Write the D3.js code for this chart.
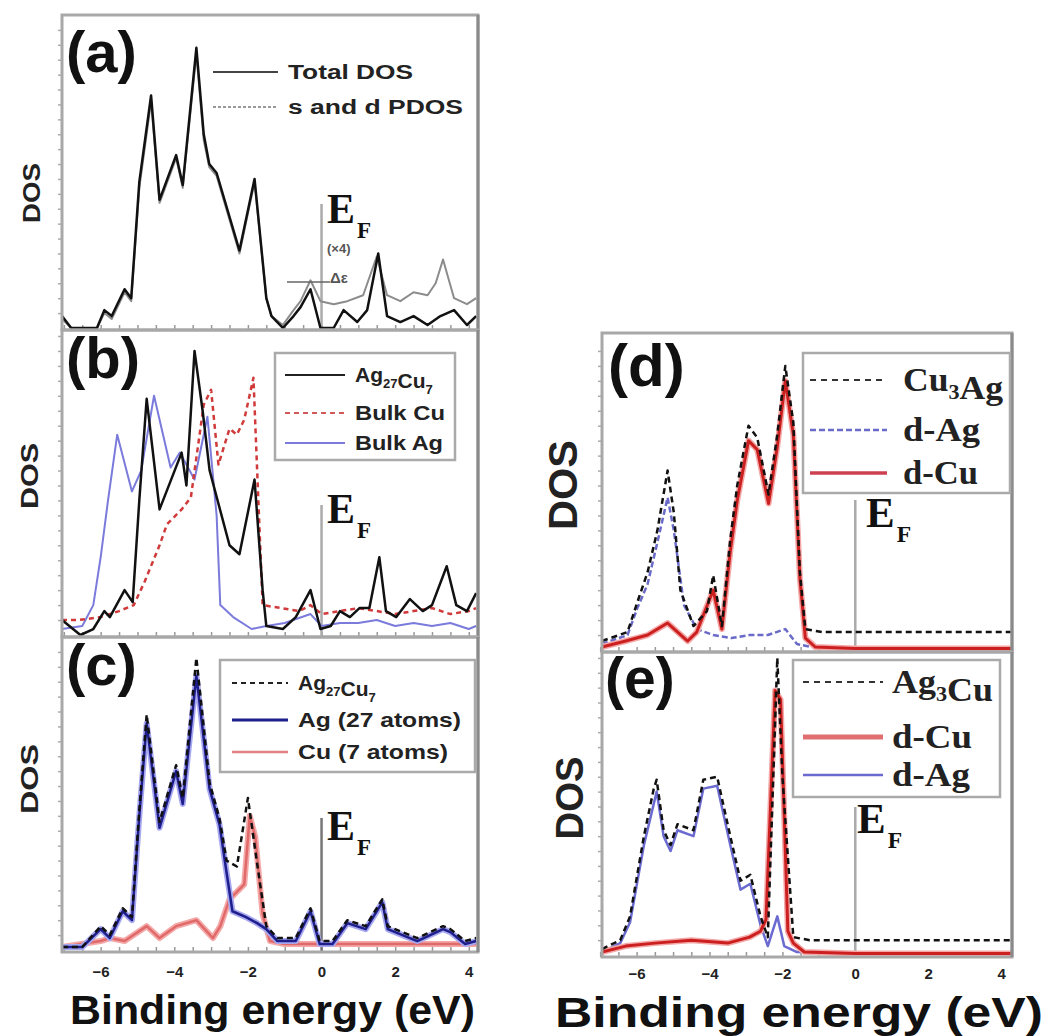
<!DOCTYPE html>
<html><head><meta charset="utf-8">
<script src="https://cdn.jsdelivr.net/npm/d3@7"></script>
<style>
html,body{margin:0;padding:0;background:#fff;}
svg{display:block;}
text{font-family:"Liberation Sans",Arial,sans-serif;}
.serif{font-family:"Liberation Serif","Times New Roman",serif;font-weight:bold;}
</style></head>
<body>
<svg id="chart" width="1052" height="1036"></svg>
<script>
// ---------------- DATA ----------------
const tickLabelsX = [-6, -4, -2, 0, 2, 4];
const minorTicksX = [-7, -6.5, -6, -5.5, -5, -4.5, -4, -3.5, -3, -2.5, -2, -1.5, -1, -0.5, 0, 0.5, 1, 1.5, 2, 2.5, 3, 3.5, 4];
const minorTicksY = [5, 10, 15, 20, 25, 30, 35, 40, 45, 50, 55, 60, 65, 70, 75, 80, 85, 90, 95, 100];

// (a) Total DOS and s+d PDOS
const aTotalE = [-7.05,-6.8,-6.1,-5.9,-5.7,-5.35,-5.17,-4.95,-4.63,-4.4,-3.95,-3.77,-3.4,-3.2,-3.05,-2.85,-2.23,-1.82,-1.5,-1.36,-1.05,-0.76,-0.57,-0.3,-0.03,0.33,0.6,0.97,1.24,1.54,1.78,2.14,2.5,2.88,3.23,3.6,3.95,4.2];
const aTotalV = [4,0,0,6,4,13,10,49,78,43,58,48,94,65,55,52,26,50,10,4,0,4,7,13,0,0,6,2,6,25,4,2,4,1,4,6,1,4];
const aPdosE = [-7.05,-6.8,-6.1,-5.9,-5.7,-5.35,-5.17,-4.95,-4.63,-4.4,-3.95,-3.77,-3.4,-3.2,-3.05,-2.85,-2.23,-1.82,-1.5,-1.36,-1.05,-0.76,-0.57,-0.3,-0.03,0.33,0.7,1.13,1.5,1.78,2.14,2.5,2.88,3.1,3.3,3.6,3.95,4.2];
const aPdosV = [3,0,0,5,3,12,9,47,76,42,57,47,92,63,54,51,25,49,10,4,1,6,9,16,9,8,9,11,24,11,9,12,11,15,23,10,8,10];

// (b) Ag27Cu7 vs bulk Cu and bulk Ag
const bClusterE = [-7.05,-6.55,-6.2,-5.9,-5.75,-5.35,-5.13,-4.95,-4.75,-4.4,-3.8,-3.67,-3.45,-3.23,-3.04,-2.5,-2.23,-1.82,-1.6,-1.5,-1.05,-0.7,-0.3,-0.03,0.25,0.5,0.77,1.03,1.3,1.57,1.75,2.03,2.4,2.75,3.0,3.4,3.66,3.95,4.2];
const bClusterV = [5,0,2,8,6,15,11,45,79,42,61,50,95,75,55,30,27,52,15,3,2,6,15,2,3,8,6,9,9,26,8,6,12,8,10,23,10,8,14];
const bBulkCuE = [-7.05,-6.6,-6.0,-5.5,-5.1,-4.8,-4.4,-4.2,-3.8,-3.55,-3.2,-3.0,-2.8,-2.5,-2.3,-2.1,-1.85,-1.7,-1.6,-1.1,-0.6,-0.3,0,0.5,1.0,1.5,2.0,2.5,3.0,3.5,4.0,4.2];
const bBulkCuV = [5,5,6,8,10,18,30,37,42,46,77,82,57,69,67,72,86,40,10,9,8,10,7,8,9,8,7,8,9,7,8,9];
const bBulkAgE = [-7.05,-6.5,-6.2,-6.0,-5.8,-5.55,-5.15,-4.9,-4.55,-4.1,-3.85,-3.45,-3.1,-2.85,-2.75,-2.4,-1.9,-1.5,-1.0,-0.3,0,0.5,1.0,1.5,2.0,2.5,3.0,3.5,4.0,4.2];
const bBulkAgV = [2,3,10,26,45,67,48,55,80,56,61,52,73,40,10,6,2,3,4,7,3,4,4,5,3,4,3,4,2,3];

// (c) Ag27Cu7 projected on Ag and Cu atoms
const cTotalE = [-7.05,-6.5,-6.0,-5.75,-5.4,-5.15,-4.95,-4.75,-4.4,-3.95,-3.77,-3.4,-3.04,-2.77,-2.58,-2.3,-2.0,-1.75,-1.5,-1.2,-0.7,-0.3,-0.05,0.3,0.7,1.2,1.65,1.8,2.2,2.6,3.3,3.5,3.9,4.2];
const cTotalV = [1,1,8,5,14,11,47,79,43,62,51,98,56,44,30,28,51,29,8,4,4,14,3,3,10,8,17,8,6,4,8,7,3,4];
const cAgE = [-7.05,-6.5,-6.0,-5.75,-5.4,-5.15,-4.95,-4.75,-4.4,-3.95,-3.77,-3.4,-3.04,-2.77,-2.58,-2.42,-2.05,-1.75,-1.5,-1.2,-0.7,-0.3,-0.05,0.3,0.7,1.2,1.65,1.8,2.2,2.6,3.3,3.5,3.9,4.2];
const cAgV = [1,1,7,4,13,10,45,76,41,60,49,92,54,42,26,13,11,9,7,3,3,13,2,2,9,7,16,7,5,3,7,6,2,3];
const cCuE = [-7.05,-6.0,-5.75,-5.35,-4.75,-4.4,-3.95,-3.4,-3.1,-2.95,-2.75,-2.5,-2.1,-1.95,-1.8,-1.6,-1.4,-1.0,0,1,2,3,4.2];
const cCuV = [1,3,4,3,8,4,8,10,6,4,8,17,22,45,38,12,3,2,2,2,2,2,2];

// (d) Cu3Ag
const dTotalE = [-6.95,-6.25,-5.98,-5.7,-5.43,-5.15,-4.98,-4.8,-4.44,-4.07,-3.9,-3.66,-3.43,-3.24,-2.93,-2.69,-2.38,-2.14,-1.92,-1.7,-1.52,-1.37,-0.9,0,1,2,3,4.3];
const dTotalV = [3,6,16,26,40,60,46,20,8,13,25,8,37,55,75,71,52,72,95,76,26,7,6,6,6,6,6,6];
const dAgE = [-6.95,-6.25,-5.98,-5.7,-5.43,-5.15,-4.98,-4.7,-4.35,-3.9,-3.4,-2.9,-2.4,-1.92,-1.6,-1.2,0,4.3];
const dAgV = [2,5,14,22,36,51,40,15,7,5,4,5,5,7,2,1,0.5,0.5];
const dCuE = [-6.95,-6.3,-5.7,-5.15,-4.6,-4.35,-3.9,-3.66,-3.43,-3.24,-2.93,-2.69,-2.38,-2.14,-1.92,-1.7,-1.52,-1.37,-1.1,0,4.3];
const dCuV = [1,3,5,9,3,6,20,7,33,50,70,67,49,68,90,72,24,4,1,0.5,0.5];

// (e) Ag3Cu
const eTotalE = [-6.95,-6.45,-6.18,-5.8,-5.53,-5.45,-5.26,-5.07,-4.88,-4.44,-4.17,-3.79,-3.43,-3.15,-2.88,-2.6,-2.4,-2.25,-2.14,-2.0,-1.7,-1.25,0,1,2,3,4.3];
const eTotalV = [2,5,13,40,56,59,42,37,44,42,59,60,40,25,27,13,6,60,100,60,6,5,5,5,5,5,5];
const eCuE = [-6.95,-6.3,-5.5,-4.5,-3.5,-2.9,-2.6,-2.45,-2.2,-2.05,-1.85,-1.7,-1.4,0,4.3];
const eCuV = [1,3,4,5,4,6,8,12,89,86,8,4,1,0.5,0.5];
const eAgE = [-6.95,-6.45,-6.18,-5.8,-5.45,-5.26,-5.07,-4.88,-4.44,-4.17,-3.79,-3.43,-3.15,-2.88,-2.6,-2.4,-2.14,-1.95,-1.6,0,4.3];
const eAgV = [1,4,11,37,55,40,35,42,40,56,57,37,22,24,10,3,13,3,1,0.5,0.5];

// ---------------- DRAW ----------------
const svg = d3.select("#chart");
const zip = (E, V) => E.map((e, i) => ({e, v: V[i]}));

const panels = {
  a: {x0: 62, x1: 478, y0: 15, y1: 330, xd: [-7.05, 4.25], ymax: 105},
  b: {x0: 62, x1: 478, y0: 330, y1: 637, xd: [-7.05, 4.25], ymax: 102},
  c: {x0: 62, x1: 478, y0: 637, y1: 952, xd: [-7.05, 4.25], ymax: 105},
  d: {x0: 602, x1: 1012, y0: 333, y1: 652, xd: [-6.95, 4.3], ymax: 106},
  e: {x0: 602, x1: 1012, y0: 652, y1: 957, xd: [-6.95, 4.3], ymax: 102}
};
for (const k in panels) {
  const p = panels[k];
  p.x = d3.scaleLinear().domain(p.xd).range([p.x0, p.x1]);
  p.y = d3.scaleLinear().domain([0, p.ymax]).range([p.y1 - 2, p.y0]);
}

function frame(p, showLabels) {
  const g = svg.append("g");
  const ax = g.append("g").attr("transform", `translate(0,${p.y1})`)
    .call(d3.axisBottom(p.x).tickValues(minorTicksX).tickSize(-5).tickFormat(""));
  ax.select(".domain").remove();
  ax.selectAll("line").attr("stroke", "#999").attr("stroke-width", 1.5);
  if (showLabels) {
    const lab = g.append("g").attr("transform", `translate(0,${p.y1})`)
      .call(d3.axisBottom(p.x).tickValues(tickLabelsX).tickSize(0).tickPadding(showLabels.pad).tickFormat(d3.format("d")));
    lab.select(".domain").remove();
    lab.selectAll("text").attr("font-size", showLabels.fs).attr("font-weight", "bold").attr("fill", "#222")
      .attr("font-family", "'Liberation Sans',Arial,sans-serif");
  }
  const ay = g.append("g").attr("transform", `translate(${p.x0},0)`)
    .call(d3.axisLeft(p.y).tickValues(minorTicksY).tickSize(4).tickFormat(""));
  ay.select(".domain").remove();
  ay.selectAll("line").attr("stroke", "#aaa").attr("stroke-width", 1.5);
  return g;
}

function drawLine(p, data, style) {
  const line = d3.line().x(d => p.x(d.e)).y(d => p.y(d.v));
  svg.append("path").datum(data).attr("d", line)
    .attr("fill", "none").attr("stroke", style.c).attr("stroke-width", style.w)
    .attr("stroke-dasharray", style.dash || null).attr("stroke-linejoin", "round")
    .attr("stroke-opacity", style.o || 1);
}

function border(p) {
  svg.append("rect").attr("x", p.x0).attr("y", p.y0).attr("width", p.x1 - p.x0).attr("height", p.y1 - p.y0)
    .attr("fill", "none").attr("stroke", "#a8a8a8").attr("stroke-width", 3);
  svg.append("line").attr("x1", p.x1).attr("x2", p.x1).attr("y1", p.y0).attr("y2", p.y1)
    .attr("stroke", "#8a8a8a").attr("stroke-width", 3);
}

function efLine(p, top, col) {
  svg.append("line").attr("x1", p.x(0)).attr("x2", p.x(0)).attr("y1", top).attr("y2", p.y1)
    .attr("stroke", col || "#aaa").attr("stroke-width", 2.5);
}

function efLabel(x, y, fs) {
  const t = svg.append("text").attr("class", "serif").attr("x", x).attr("y", y).attr("font-size", fs).attr("fill", "#111");
  t.append("tspan").text("E");
  t.append("tspan").attr("dx", 2).attr("dy", fs * 0.36).attr("font-size", fs * 0.55).text("F");
}

function dosLabel(x, y, fs, len) {
  svg.append("text").attr("transform", `translate(${x},${y}) rotate(-90)`).attr("text-anchor", "middle")
    .attr("font-size", fs).attr("font-weight", "bold").attr("fill", "#222")
    .attr("textLength", len).attr("lengthAdjust", "spacingAndGlyphs").text("DOS");
}

function panelLabel(x, y, txt, fs) {
  svg.append("text").attr("x", x).attr("y", y).attr("font-size", fs).attr("font-weight", "bold").attr("fill", "#111").text(txt);
}

function legendBox(x, y, w, h) {
  svg.append("rect").attr("x", x).attr("y", y).attr("width", w).attr("height", h)
    .attr("fill", "#fff").attr("stroke", "#aaa").attr("stroke-width", 2.5);
}
function legendLine(x1, x2, y, style) {
  svg.append("line").attr("x1", x1).attr("x2", x2).attr("y1", y).attr("y2", y)
    .attr("stroke", style.c).attr("stroke-width", style.w).attr("stroke-dasharray", style.dash || null);
}
function legendText(x, y, parts, fs, cls, len) {
  const t = svg.append("text").attr("x", x).attr("y", y).attr("font-size", fs).attr("fill", "#222");
  if (cls) t.attr("class", cls); else t.attr("font-weight", "bold");
  if (len) t.attr("textLength", len).attr("lengthAdjust", "spacingAndGlyphs");
  parts.forEach(pt => {
    if (typeof pt === "string") t.append("tspan").text(pt);
    else t.append("tspan").attr("dy", pt.dy).attr("font-size", fs * 0.62).text(pt.t);
  });
}

// ---- styles
const sBlack = {c: "#111", w: 2.5};
const sBlackDash = {c: "#111", w: 2.5, dash: "6,4"};
const sGray = {c: "#8c8c8c", w: 2};
const sBulkCu = {c: "#d03a3a", w: 2.5, dash: "5,4"};
const sBulkAg = {c: "#7b7bdc", w: 2};
const sAgHalo = {c: "#a8a8f0", w: 6};
const sAgC = {c: "#1e1e8c", w: 2.5};
const sCuC = {c: "#e06a6a", w: 2.5};
const sCuHalo = {c: "#f4a8a8", w: 6};
const sDCu = {c: "#cc2020", w: 3};
const sDAg = {c: "#6a6ac8", w: 2.5, dash: "6,3"};
const sEAg = {c: "#6a6ad0", w: 2.5};

// ---- Panel (a)
const A = panels.a;
frame(A, null);
efLine(A, 204);
drawLine(A, zip(aPdosE, aPdosV), sGray);
drawLine(A, zip(aTotalE, aTotalV), sBlack);
border(A);
panelLabel(66, 72, "(a)", 58);
dosLabel(40, 193, 24, 60);
legendLine(213, 278, 72, {c: "#444", w: 2});
legendText(288, 79, ["Total DOS"], 20, null, 125);
legendLine(213, 278, 107, {c: "#999", w: 2, dash: "3,2"});
legendText(288, 114, ["s and d PDOS"], 20, null, 175);
efLabel(327, 223, 42);
svg.append("text").attr("x", 327).attr("y", 253).attr("font-size", 13).attr("font-weight", "bold").attr("fill", "#555").text("(×4)");
svg.append("line").attr("x1", 287).attr("x2", 330).attr("y1", 282).attr("y2", 282).attr("stroke", "#666").attr("stroke-width", 1.5);
svg.append("text").attr("x", 330).attr("y", 283).attr("font-size", 15).attr("font-weight", "bold").attr("fill", "#555").text("Δε");

// ---- Panel (b)
const B = panels.b;
frame(B, null);
efLine(B, 505);
drawLine(B, zip(bBulkAgE, bBulkAgV), sBulkAg);
drawLine(B, zip(bBulkCuE, bBulkCuV), sBulkCu);
drawLine(B, zip(bClusterE, bClusterV), sBlack);
border(B);
panelLabel(66, 378, "(b)", 58);
dosLabel(38, 476, 24, 66);
legendBox(275, 353, 180, 107);
legendLine(285, 345, 375, {c: "#222", w: 2});
legendText(355, 382, ["Ag", {t: "27", dy: 6}, {t: "", dy: -6}, "Cu", {t: "7", dy: 6}], 21);
legendLine(285, 345, 413, {c: "#d05a5a", w: 2, dash: "5,4"});
legendText(355, 420, ["Bulk Cu"], 21, null, 90);
legendLine(285, 345, 443, {c: "#7b7bdc", w: 2});
legendText(355, 450, ["Bulk Ag"], 21, null, 88);
efLabel(327, 523, 42);

// ---- Panel (c)
const C = panels.c;
frame(C, {fs: 15, pad: 14});
efLine(C, 818, "#777");
drawLine(C, zip(cCuE, cCuV), sCuHalo);
drawLine(C, zip(cCuE, cCuV), sCuC);
drawLine(C, zip(cAgE, cAgV), sAgHalo);
drawLine(C, zip(cAgE, cAgV), sAgC);
drawLine(C, zip(cTotalE, cTotalV), sBlackDash);
border(C);
panelLabel(66, 685, "(c)", 58);
dosLabel(38, 779, 24, 70);
legendBox(220, 660, 255, 112);
legendLine(232, 288, 683, {c: "#222", w: 2, dash: "5,4"});
legendText(298, 690, ["Ag", {t: "27", dy: 6}, {t: "", dy: -6}, "Cu", {t: "7", dy: 6}], 21);
legendLine(232, 288, 720, {c: "#1e1e8c", w: 3});
legendText(298, 727, ["Ag (27 atoms)"], 21, null, 163);
legendLine(232, 288, 752, {c: "#e08080", w: 2.5});
legendText(298, 759, ["Cu (7 atoms)"], 21, null, 150);
efLabel(327, 840, 42);

svg.append("text").attr("x", 70).attr("y", 1024).attr("font-size", 40)
  .attr("textLength", 405).attr("lengthAdjust", "spacingAndGlyphs")
  .attr("font-weight", "bold").attr("fill", "#111").text("Binding energy (eV)");

// ---- Panel (d)
const D = panels.d;
frame(D, null);
efLine(D, 500);
drawLine(D, zip(dAgE, dAgV), sDAg);
drawLine(D, zip(dCuE, dCuV), sCuHalo);
drawLine(D, zip(dCuE, dCuV), sDCu);
drawLine(D, zip(dTotalE, dTotalV), sBlackDash);
border(D);
panelLabel(608, 386, "(d)", 60);
dosLabel(577, 485, 40, 90);
legendBox(803, 353, 207, 140);
legendLine(810, 887, 380, {c: "#333", w: 2, dash: "6,5"});
legendText(903, 391, ["Cu", {t: "3", dy: 8}, {t: "", dy: -8}, "Ag"], 33, "serif", 100);
legendLine(810, 887, 430, {c: "#6a6ac8", w: 2.5, dash: "6,3"});
legendText(903, 441, ["d-Ag"], 33, "serif", 77);
legendLine(810, 887, 473, {c: "#cc4050", w: 3.5});
legendText(903, 484, ["d-Cu"], 33, "serif", 75);
efLabel(866, 527, 43);

// ---- Panel (e)
const E = panels.e;
frame(E, {fs: 15, pad: 11});
efLine(E, 807);
drawLine(E, zip(eAgE, eAgV), sEAg);
drawLine(E, zip(eCuE, eCuV), sCuHalo);
drawLine(E, zip(eCuE, eCuV), sDCu);
drawLine(E, zip(eTotalE, eTotalV), sBlackDash);
border(E);
panelLabel(605, 698, "(e)", 57);
dosLabel(583, 798, 38, 83);
legendBox(793, 660, 207, 137);
legendLine(803, 883, 682, {c: "#333", w: 2, dash: "6,5"});
legendText(892, 693, ["Ag", {t: "3", dy: 8}, {t: "", dy: -8}, "Cu"], 33, "serif", 101);
legendLine(803, 883, 737, {c: "#e07070", w: 5});
legendText(892, 748, ["d-Cu"], 33, "serif", 80);
legendLine(803, 883, 775, {c: "#6a6ad0", w: 2.5});
legendText(892, 786, ["d-Ag"], 33, "serif", 78);
efLabel(857, 833, 43);

svg.append("text").attr("x", 555).attr("y", 1027).attr("font-size", 43)
  .attr("textLength", 488).attr("lengthAdjust", "spacingAndGlyphs")
  .attr("font-weight", "bold").attr("fill", "#111").text("Binding energy (eV)");
</script>
</body></html>
